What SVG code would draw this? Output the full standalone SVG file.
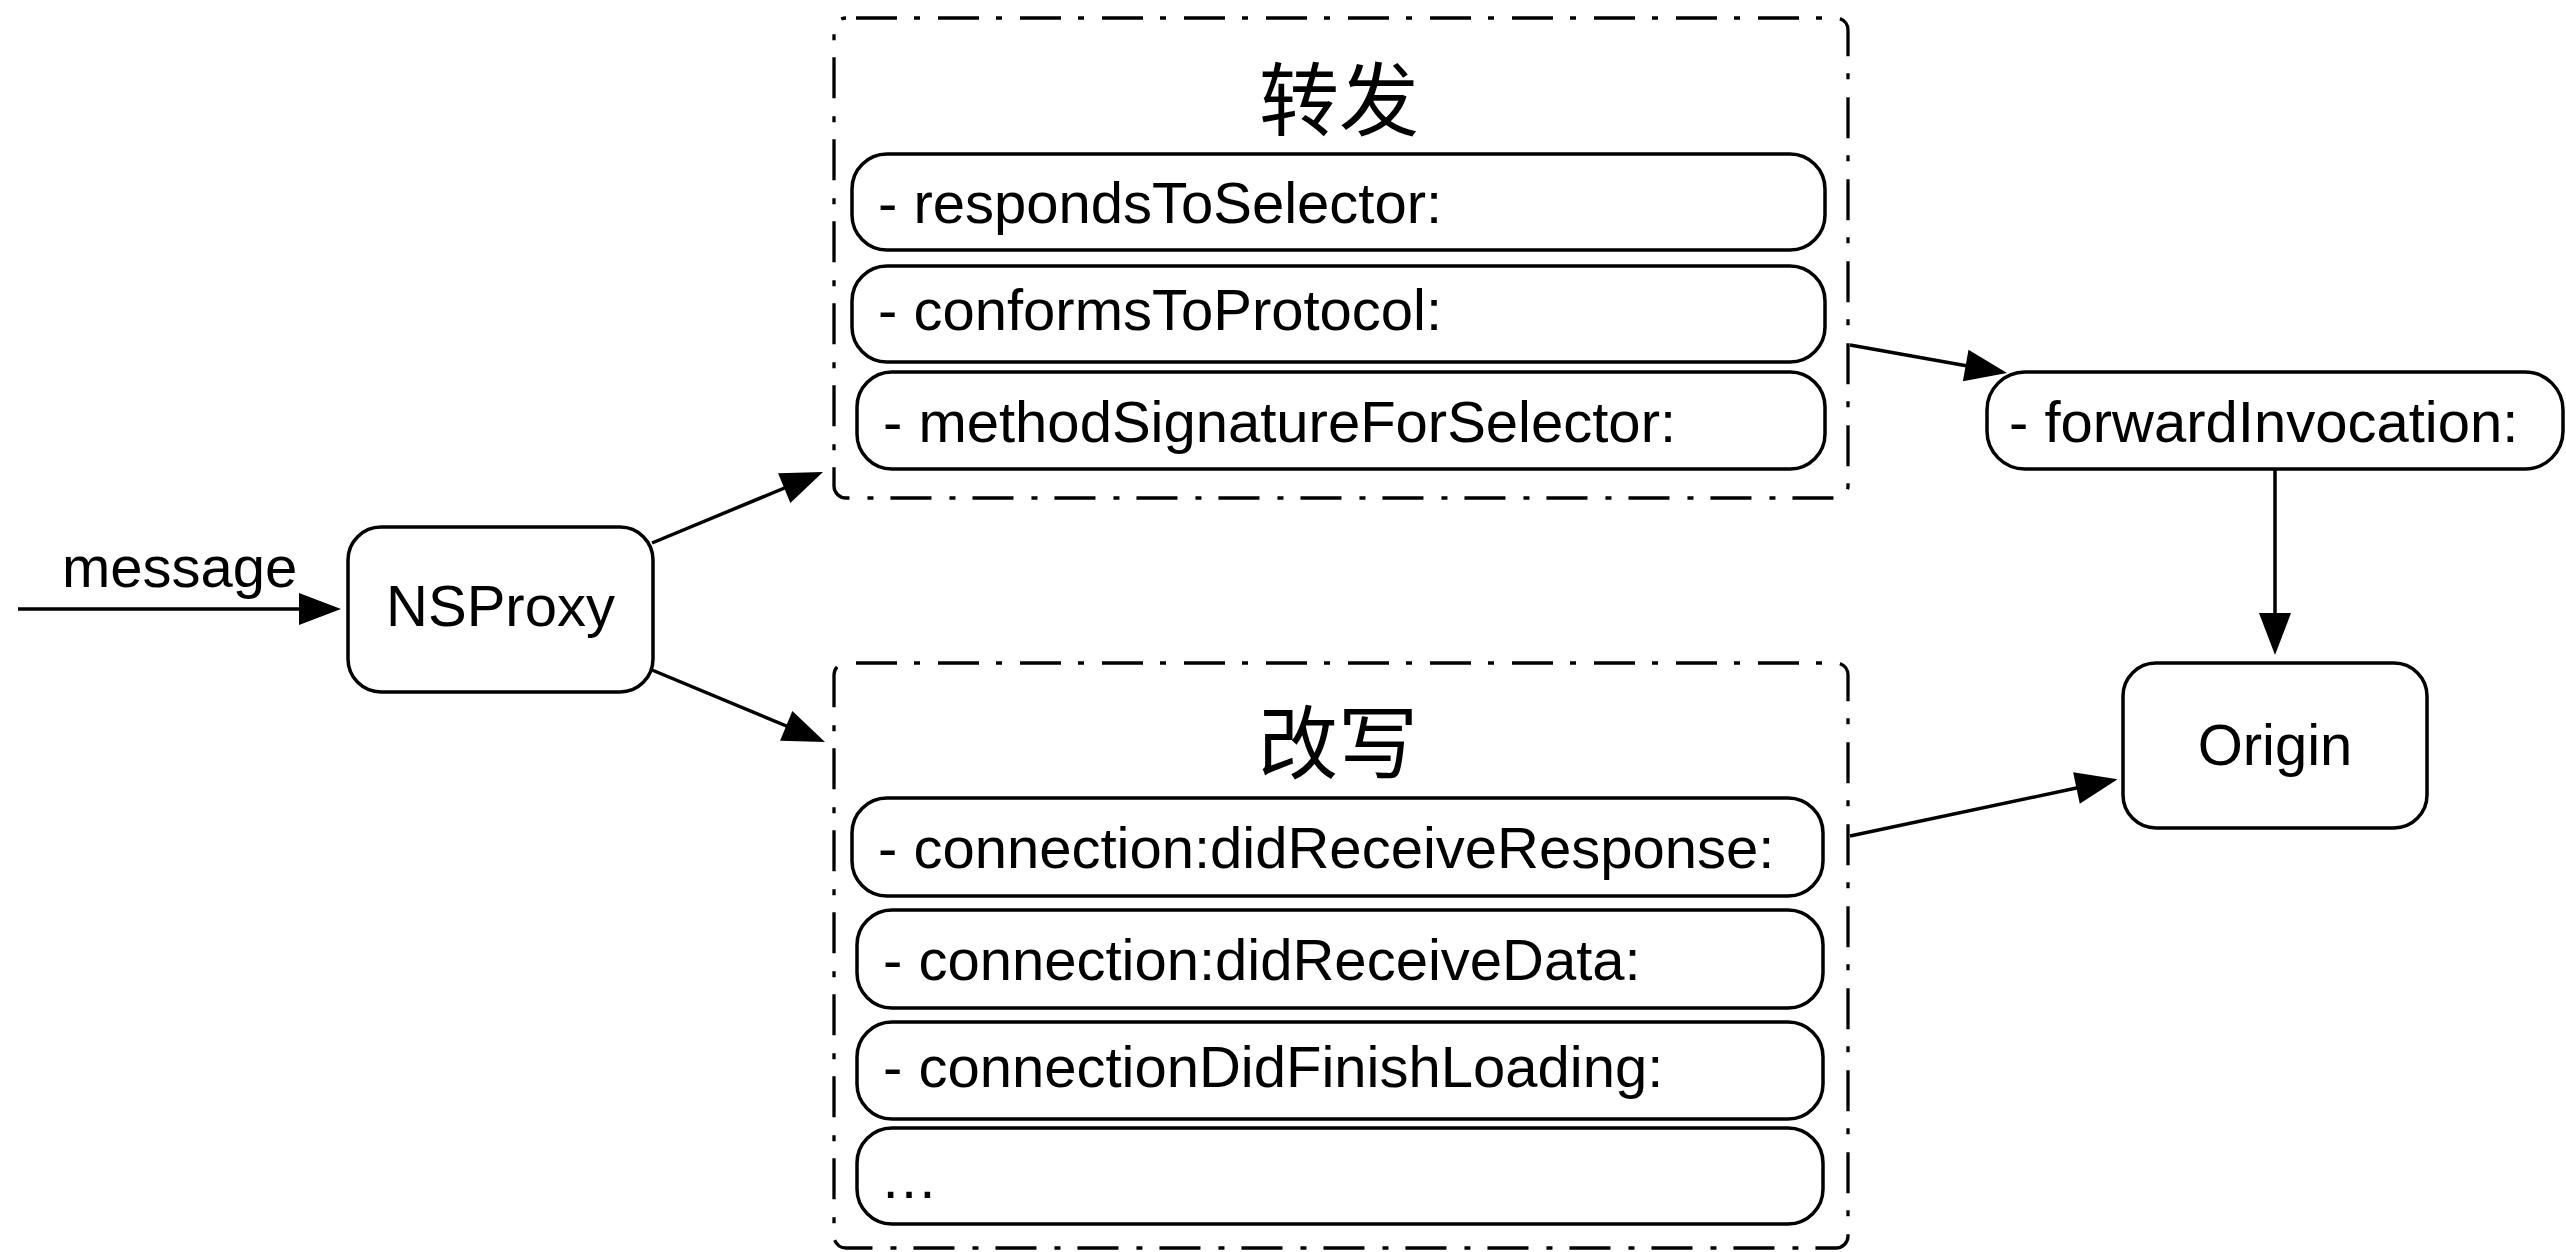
<svg xmlns="http://www.w3.org/2000/svg" width="2566" height="1252" viewBox="0 0 2566 1252">
  <style>
    .node { fill: #ffffff; stroke: #000000; stroke-width: 3.5; }
    .group { fill: none; stroke: #000000; stroke-width: 3.3; stroke-dasharray: 41 17 6 18; }
    .label { font-family: "Liberation Sans", Arial, Helvetica, sans-serif; font-size: 58px; fill: #000000; }
    .title { font-family: "Liberation Sans", "Noto Sans CJK SC", sans-serif; font-size: 80px; fill: #000000; text-anchor: middle; }
    .mid { text-anchor: middle; }
    .edge { fill: none; stroke: #000000; stroke-width: 3.5; marker-end: url(#head); }
  </style>
  <defs>
    <marker id="head" markerUnits="userSpaceOnUse" markerWidth="42" markerHeight="32" refX="12" refY="16" orient="auto" overflow="visible">
      <path d="M0,0 L42,16 L0,32 Z" fill="#000000"/>
    </marker>
  </defs>

  <rect width="2566" height="1252" fill="#ffffff"/>

  <!-- connectors -->
  <g id="connectors">
    <path id="e-message" class="edge" d="M18,609 L311,609"/>
    <text class="label" x="62" y="587">message</text>
    <path id="e-proxy-forward" class="edge" d="M652,543 L795.3,483.5"/>
    <path id="e-proxy-rewrite" class="edge" d="M652,670 L797.3,730.5"/>
    <path id="e-forward-invocation" class="edge" d="M1850,345 L1977.5,367.7"/>
    <path id="e-invocation-origin" class="edge" d="M2275,469 L2275,625"/>
    <path id="e-rewrite-origin" class="edge" d="M1850,836 L2088.2,785.5"/>
  </g>

  <!-- NSProxy -->
  <g id="nsproxy">
    <rect class="node" x="348" y="527" width="305" height="165" rx="33" ry="33"/>
    <text class="label mid" x="500.5" y="626">NSProxy</text>
  </g>

  <!-- forwarding group -->
  <g id="forwarding">
    <rect class="group" x="834" y="18" width="1014" height="480" rx="12" ry="12" stroke-dashoffset="-10"/>
    <text class="title" x="1339" y="129">转发</text>
    <g id="responds-to-selector">
      <rect class="node" x="852" y="154" width="973" height="96" rx="35" ry="35"/>
      <text class="label" x="878" y="223">- respondsToSelector:</text>
    </g>
    <g id="conforms-to-protocol">
      <rect class="node" x="852" y="266" width="973" height="96" rx="35" ry="35"/>
      <text class="label" x="878" y="330">- conformsToProtocol:</text>
    </g>
    <g id="method-signature">
      <rect class="node" x="857" y="372" width="968" height="97" rx="35" ry="35"/>
      <text class="label" x="883" y="442">- methodSignatureForSelector:</text>
    </g>
  </g>

  <!-- rewriting group -->
  <g id="rewriting">
    <rect class="group" x="834" y="663" width="1014" height="585" rx="12" ry="12" stroke-dashoffset="-10"/>
    <text class="title" x="1338" y="772">改写</text>
    <g id="did-receive-response">
      <rect class="node" x="852" y="798" width="971" height="98" rx="35" ry="35"/>
      <text class="label" x="878" y="868">- connection:didReceiveResponse:</text>
    </g>
    <g id="did-receive-data">
      <rect class="node" x="857" y="910" width="966" height="98" rx="35" ry="35"/>
      <text class="label" x="883" y="980">- connection:didReceiveData:</text>
    </g>
    <g id="did-finish-loading">
      <rect class="node" x="857" y="1022" width="966" height="97" rx="35" ry="35"/>
      <text class="label" x="883" y="1087">- connectionDidFinishLoading:</text>
    </g>
    <g id="more-methods">
      <rect class="node" x="857" y="1128" width="966" height="96" rx="35" ry="35"/>
      <text class="label" x="880" y="1198">…</text>
    </g>
  </g>

  <!-- forwardInvocation -->
  <g id="forward-invocation">
    <rect class="node" x="1987" y="372" width="576" height="97" rx="38" ry="38"/>
    <text class="label" x="2009" y="442">- forwardInvocation:</text>
  </g>

  <!-- Origin -->
  <g id="origin">
    <rect class="node" x="2123" y="663" width="304" height="165" rx="33" ry="33"/>
    <text class="label mid" x="2275" y="765">Origin</text>
  </g>
</svg>
